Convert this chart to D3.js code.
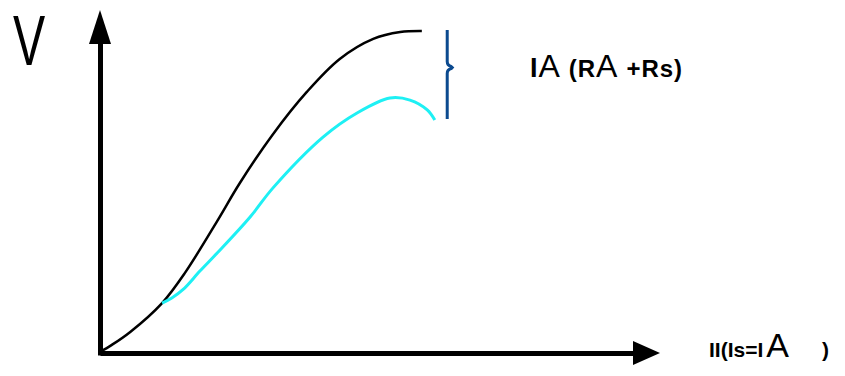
<!DOCTYPE html>
<html>
<head>
<meta charset="utf-8">
<script src="https://cdn.jsdelivr.net/npm/d3@7"></script>
<style>
  body { margin: 0; background: #fff; }
  svg { display: block; font-family: "Liberation Sans", Arial, sans-serif; }
</style>
</head>
<body>
<div id="chart"></div>
<script>
// curve values (current on x, voltage on y)
var totalI = [0, 0.22, 0.56, 1.15, 1.57, 2.17, 2.59, 3.20, 3.83, 4.44, 5.06, 5.56, 5.96];
var totalV = [0, 0.21, 0.59, 1.44, 2.32, 3.85, 4.97, 6.40, 7.65, 8.62, 9.21, 9.41, 9.44];

var drivenI = [1.15, 1.33, 1.54, 1.85, 2.17, 2.78, 3.20, 4.13, 4.76, 5.37, 5.74, 6.06, 6.20];
var drivenV = [1.44, 1.59, 1.84, 2.38, 2.91, 3.97, 4.82, 6.32, 7.03, 7.47, 7.41, 7.12, 6.82];

// brace marking the drop between the two curves
var braceI = 6.43;
var braceV = [9.47, 6.85];

var svgWidth = 845;
var svgHeight = 376;

var svg = d3.select("#chart")
  .append("svg")
  .attr("width", svgWidth)
  .attr("height", svgHeight);

var xScale = d3.scaleLinear().domain([0, 10]).range([100, 640]);
var yScale = d3.scaleLinear().domain([0, 10]).range([352, 12]);

var line = d3.line()
  .x(function(d) { return xScale(d[0]); })
  .y(function(d) { return yScale(d[1]); })
  .curve(d3.curveCatmullRom.alpha(0.5));

// axes without ticks
svg.append("g")
  .attr("transform", "translate(0,353)")
  .call(d3.axisBottom(xScale).ticks(0).tickSizeOuter(0))
  .select(".domain")
  .attr("stroke", "#000")
  .attr("stroke-width", 5);

svg.append("g")
  .attr("transform", "translate(100,0)")
  .call(d3.axisLeft(d3.scaleLinear().domain([0, 10]).range([355, 40])).ticks(0).tickSizeOuter(0))
  .select(".domain")
  .attr("stroke", "#000")
  .attr("stroke-width", 5);

// arrow heads
svg.append("path")
  .attr("d", "M100,10 L111,44 L89,44 Z")
  .attr("fill", "#000");
svg.append("path")
  .attr("d", "M660,353 L633,341 L633,365 Z")
  .attr("fill", "#000");

// curves
svg.append("path")
  .datum(d3.zip(totalI, totalV))
  .attr("d", line)
  .attr("fill", "none")
  .attr("stroke", "#000")
  .attr("stroke-width", 2.5);

svg.append("path")
  .datum(d3.zip(drivenI, drivenV))
  .attr("d", line)
  .attr("fill", "none")
  .attr("stroke", "#1ef0f4")
  .attr("stroke-width", 3);

// brace
var bx = xScale(braceI), by0 = yScale(braceV[0]), by1 = yScale(braceV[1]);
var bm = (by0 + by1) / 2 - 7;
svg.append("path")
  .attr("d", "M" + bx + "," + by0 + " L" + bx + "," + (bm - 6) +
    " Q" + bx + "," + (bm - 2) + " " + (bx + 4) + "," + (bm - 1) +
    " L" + (bx + 5) + "," + bm + " L" + (bx + 4) + "," + (bm + 1) +
    " Q" + bx + "," + (bm + 2) + " " + bx + "," + (bm + 6) +
    " L" + bx + "," + by1)
  .attr("fill", "none")
  .attr("stroke", "#0b4a8f")
  .attr("stroke-width", 3);

// labels
svg.append("text")
  .attr("transform", "translate(13,65) scale(0.68,1)")
  .attr("font-size", 71)
  .text("V");

var lab = svg.append("text")
  .attr("x", 530)
  .attr("y", 77)
  .attr("textLength", 152)
  .attr("lengthAdjust", "spacing")
  .attr("fill", "#000");
lab.append("tspan").attr("font-size", 27).attr("font-weight", "bold").text("I");
lab.append("tspan").attr("font-size", 32).text("A ");
lab.append("tspan").attr("font-size", 24).attr("font-weight", "bold").text("(R");
lab.append("tspan").attr("font-size", 32).text("A ");
lab.append("tspan").attr("font-size", 24).attr("font-weight", "bold").text("+Rs)");

var lab2 = svg.append("text")
  .attr("x", 709)
  .attr("y", 357)
  .attr("fill", "#000");
lab2.append("tspan").attr("font-size", 21).attr("font-weight", "bold").text("II(Is=I");
lab2.append("tspan").attr("font-size", 34).attr("dx", 3).text("A");
lab2.append("tspan").attr("x", 822).attr("font-size", 21).attr("font-weight", "bold").text(")");
</script>
</body>
</html>
